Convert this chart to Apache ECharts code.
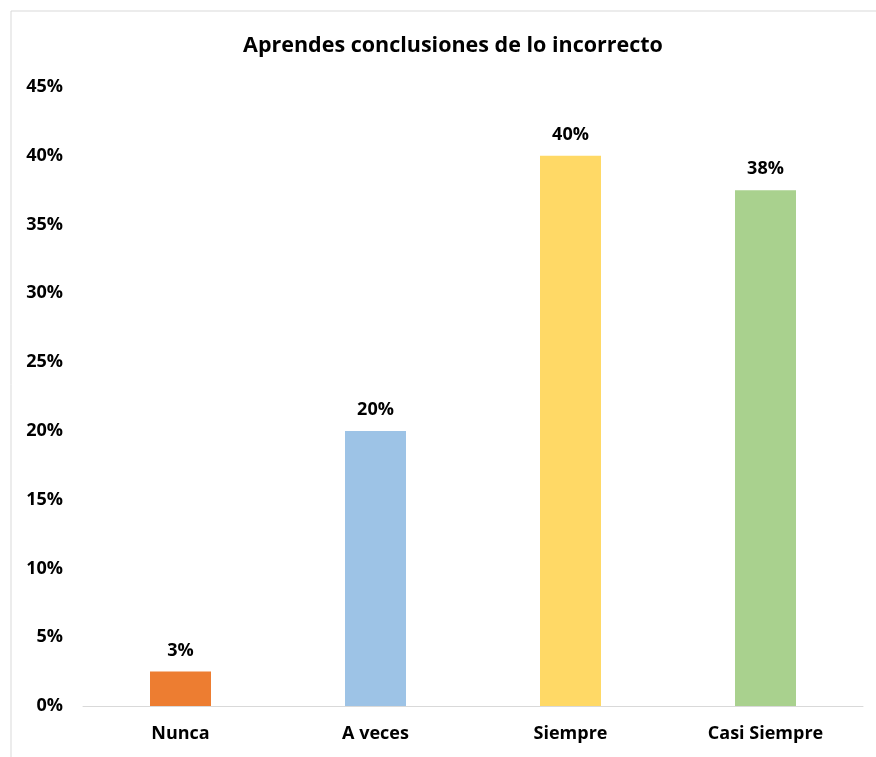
<!DOCTYPE html>
<html>
<head>
<meta charset="utf-8">
<script src="https://cdn.jsdelivr.net/npm/echarts@6/dist/echarts.min.js"></script>
<style>
    html, body { margin: 0; padding: 0; background: #fff; }
    #chart { width: 876px; height: 757px; }
</style>
</head>
<body>
<div id="chart"></div>
<script>
    var categories = ['Nunca', 'A veces', 'Siempre', 'Casi Siempre'];
    var values = [2.5, 20, 40, 37.5];
    var barLabels = ['3%', '20%', '40%', '38%'];
    var barColors = ['#ED7D31', '#9DC3E6', '#FFD966', '#A9D18E'];

    var font = '"Open Sans", Lato, sans-serif';
    var chart = echarts.init(document.getElementById('chart'));
    chart.setOption({
        animation: false,
        graphic: [{
            type: 'rect',
            shape: { x: 11, y: 11, width: 900, height: 800 },
            style: { fill: 'none', stroke: '#d9d9d9', lineWidth: 1 },
            silent: true
        }],
        title: {
            text: 'Aprendes conclusiones de lo incorrecto',
            left: 448,
            textAlign: 'center',
            top: 30,
            textStyle: { fontFamily: font, fontSize: 21.5, fontWeight: 'bold', color: '#000' }
        },
        grid: { left: 83, right: 13, top: 87, bottom: 51 },
        xAxis: {
            type: 'category',
            data: categories,
            axisLine: { lineStyle: { color: '#d9d9d9', width: 1 } },
            axisTick: { show: false },
            axisLabel: { fontFamily: font, fontSize: 18, fontWeight: 'bold', color: '#000', margin: 19 }
        },
        yAxis: {
            type: 'value',
            min: 0,
            max: 45,
            interval: 5,
            splitLine: { show: false },
            axisLine: { show: false },
            axisTick: { show: false },
            axisLabel: {
                fontFamily: font, fontSize: 18, fontWeight: 'bold', color: '#000', margin: 20,
                formatter: function (v) { return v + '%'; }
            }
        },
        series: [{
            type: 'bar',
            barWidth: 61,
            data: values.map(function (v, i) {
                return { value: v, itemStyle: { color: barColors[i] } };
            }),
            label: {
                show: true,
                position: 'top',
                distance: 12,
                fontFamily: font, fontSize: 18, fontWeight: 'bold', color: '#000',
                formatter: function (p) { return barLabels[p.dataIndex]; }
            }
        }]
    });
</script>
</body>
</html>
